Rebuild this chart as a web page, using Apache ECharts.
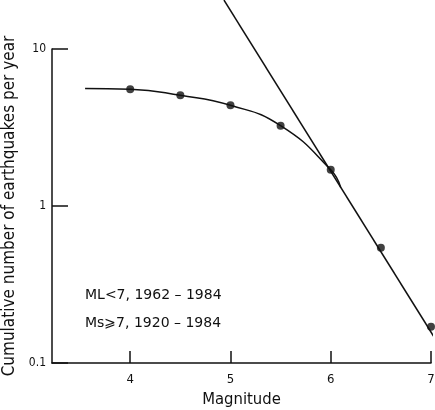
<!DOCTYPE html>
<html>
<head>
<meta charset="utf-8">
<script src="https://cdn.jsdelivr.net/npm/echarts@6/dist/echarts.min.js"></script>
<style>
html,body{margin:0;padding:0;background:#fff;}
#c{width:435px;height:410px;}
</style>
</head>
<body>
<div id="c"></div>
<script>
// Observed data points (magnitude, cumulative number per year)
const magnitudes = [4.0, 4.5, 5.0, 5.5, 6.0, 6.5, 7.0];
const cumulativeRates = [5.54, 5.07, 4.38, 3.25, 1.70, 0.542, 0.170];
// Smooth curve through the low-magnitude points (starts left of M4, merges into the line)
const curveMags = [3.55, 4.0, 4.5, 5.0, 5.5, 6.0, 6.1];
const curveRates = [5.6, 5.54, 5.07, 4.38, 3.25, 1.70, 1.31];
// Straight Gutenberg-Richter line end points
const lineMags = [4.935, 7.05];
const lineRates = [20.5, 0.14];
// Tick labels
const xTicks = [4, 5, 6, 7];
const yTicks = [0.1, 1, 10];
const annotation1 = 'ML<7, 1962 \u2013 1984';
const annotation2 = 'Ms\u2A7E7, 1920 \u2013 1984';

const condensed = "'DejaVu Sans Condensed', 'Liberation Sans Narrow', sans-serif";
const zip = (a, b) => a.map((v, i) => [v, b[i]]);

const chart = echarts.init(document.getElementById('c'), null, {renderer: 'canvas'});
chart.setOption({
  animation: false,
  backgroundColor: '#fff',
  grid: {left: 52, top: 49, right: 4, bottom: 47, outerBoundsMode: 'none', containLabel: false},
  xAxis: {
    type: 'value', min: 3.22, max: 7,
    name: 'Magnitude', nameLocation: 'middle', nameGap: 24,
    nameTextStyle: {fontFamily: condensed, fontSize: 16.5, color: '#111'},
    axisLine: {onZero: false, lineStyle: {color: '#111', width: 1.5}},
    axisTick: {inside: true, length: 12, customValues: xTicks, lineStyle: {color: '#111', width: 1.5}},
    axisLabel: {customValues: xTicks, margin: 10, fontFamily: condensed, fontSize: 13, color: '#111'},
    splitLine: {show: false}
  },
  yAxis: {
    type: 'log', logBase: 10, min: 0.1, max: 10,
    name: 'Cumulative number of earthquakes per year', nameLocation: 'middle', nameGap: 29,
    nameTextStyle: {fontFamily: condensed, fontSize: 17, color: '#111'},
    axisLine: {show: true, lineStyle: {color: '#111', width: 1.5}},
    axisTick: {inside: true, length: 16, customValues: yTicks, lineStyle: {color: '#111', width: 1.5}},
    axisLabel: {customValues: yTicks, margin: 6, fontFamily: condensed, fontSize: 12, color: '#111',
      formatter: v => String(v)},
    splitLine: {show: false}
  },
  series: [
    {
      type: 'line', data: zip(curveMags, curveRates), smooth: 0.5, symbol: 'none',
      lineStyle: {color: '#111', width: 1.5}, z: 2
    },
    {
      type: 'line', data: zip(lineMags, lineRates), symbol: 'none', clip: false,
      lineStyle: {color: '#111', width: 1.5}, z: 2
    },
    {
      type: 'scatter', data: zip(magnitudes, cumulativeRates), symbol: 'circle', symbolSize: 8,
      itemStyle: {color: '#111'}, z: 3
    }
  ],
  graphic: [
    {type: 'text', left: 85, top: 288, style: {text: annotation1, fontFamily: "'DejaVu Sans', sans-serif", fontSize: 14, fill: '#111'}},
    {type: 'text', left: 85, top: 316, style: {text: annotation2, fontFamily: "'DejaVu Sans', sans-serif", fontSize: 14, fill: '#111'}}
  ]
});
</script>
</body>
</html>
